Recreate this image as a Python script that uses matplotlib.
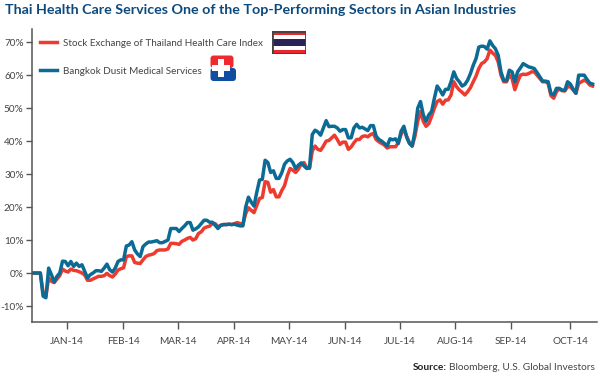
import matplotlib
matplotlib.use('Agg')
import matplotlib.pyplot as plt
from matplotlib.lines import Line2D
from matplotlib.patches import Rectangle, FancyBboxPatch

plt.rcParams['font.family'] = ['Lato', 'DejaVu Sans']

title = 'Thai Health Care Services One of the Top-Performing Sectors in Asian Industries'
source = 'Bloomberg, U.S. Global Investors'

# one value per trading day
bdms = [0, 0, 0, 0, -7, -7.5, 1.5, -0.5, -2.7, -1, 0, 3.6, 3.5, 2.2, 3.5, 2, 3, 2, 2.5, 0.5,
        -1.5, -0.5, 0, 0.7, 0.7, 0.5, 1.5, 2.7, 1, 0.3, 1.5, 3.5, 4, 4, 8.2, 8.5, 9.5, 7, 5.8, 5,
        8, 8.8, 9.4, 9.4, 9.6, 9.8, 9.2, 9.2, 9.6, 10, 13.5, 13.5, 13.5, 12.6, 13.5, 14.3, 15.3, 15.3, 13, 13.4,
        14, 15, 16, 16, 15.4, 15.4, 14.5, 13.5, 14.5, 14.7, 14.7, 14.8, 14.7, 14.8, 14.5, 14.3, 14.3, 20, 23, 21.5,
        20.3, 24.5, 28.2, 28.4, 34.2, 33.5, 30.5, 31, 28.7, 28.7, 30.4, 33, 34, 34.5, 33.5, 31.7, 32.7, 33.4, 32.5, 31.7,
        32, 42, 43.3, 42.8, 41.8, 44, 46.2, 44.4, 44.5, 44.5, 44, 43, 43.5, 43.5, 41, 41, 44, 45.1, 44, 44.2,
        43.7, 43.2, 44.7, 44.7, 41.5, 40.5, 40, 39.3, 38.5, 40.7, 40.4, 40.7, 39.3, 43, 44.5, 41.2, 39.3, 38.5, 43, 50,
        52, 48, 46, 48, 49, 53, 56.7, 55.5, 54, 55.7, 55.7, 58, 61, 59, 58, 56.7, 57.2, 58.5, 60.5, 63,
        65, 68.5, 68.8, 68.7, 67.9, 70.4, 69, 68, 66, 61, 58.4, 58.3, 61.5, 61, 58, 61, 62.2, 63.5, 63, 62.5,
        62.3, 62, 60.8, 59.5, 58.2, 58.2, 58, 54.5, 54, 56, 56, 55.5, 55.4, 58, 57.3, 55.8, 54.5, 60, 60, 60,
        58.7, 57.6, 57.3]
seth = [0, 0, 0, 0, -6, -7, -1.5, -2.5, -2.9, -1.8, -0.8, 1.2, 0.6, 0.3, 1.2, 0.8, 0.7, 0.4, 0, -0.6,
        -2.2, -2.2, -1.8, -1.4, -1, -1, -0.8, -0.1, -0.8, -1.2, -0.3, 0.9, 1.3, 1.6, 5, 5.2, 5.2, 3.2, 3, 2.9,
        4, 5, 5.4, 5.6, 5.9, 6.8, 7, 7, 7, 7.3, 9, 9, 8.9, 8.7, 9.6, 10, 10.5, 10.8, 10, 10.4,
        12, 12.5, 13.6, 14, 14.2, 15, 15, 14, 14.4, 14.7, 14.7, 14.8, 14.7, 15, 15.3, 15, 14.8, 18, 19.8, 19,
        18.3, 20.5, 22.6, 22.9, 27.7, 27.5, 24.5, 25.3, 23.1, 23.1, 25, 26.5, 29.5, 31.7, 31.2, 30.5, 31.5, 33, 33.5, 32,
        31.7, 37, 38.5, 37.5, 37.2, 38.5, 40, 40.2, 41, 41.8, 40.5, 39, 39.7, 39.7, 37.5, 38.2, 39.5, 40.5, 40.5, 41.4,
        41.6, 41.3, 42, 42.3, 40.5, 39.8, 39.3, 38.8, 37.9, 38.3, 38.3, 38.3, 39.5, 42, 43.8, 41.5, 39.5, 38.5, 41.5, 46,
        49, 46, 44.5, 45.3, 47.5, 50, 52, 52.5, 51.2, 52.4, 52.5, 54, 58, 56.5, 55.5, 54.8, 54, 55, 56.2, 58,
        59.7, 62, 63.5, 64, 65, 67.6, 66.7, 66, 64, 60, 58, 58, 60, 59, 55.6, 58, 60, 60.3, 60.2, 60.5,
        61, 61, 60, 59, 58, 58, 57.5, 53.8, 53, 55, 55.8, 55.3, 55.2, 56.5, 56.5, 55.5, 54.5, 57.5, 58, 58.5,
        58, 57, 56.7]
month_days = [12.6, 32.8, 52.7, 72.8, 92.5, 112.9, 132.7, 152.4, 172.6, 193.9]
month_labels = ['JAN-14', 'FEB-14', 'MAR-14', 'APR-14', 'MAY-14', 'JUN-14', 'JUL-14', 'AUG-14', 'SEP-14', 'OCT-14']
pct_ticks = [-10, 0, 10, 20, 30, 40, 50, 60, 70]

RED = '#ee3b2f'
BLUE = '#0b6b95'
GREY = '#444444'
W, H = 600, 376

fig = plt.figure(figsize=(6, 3.76), dpi=100)
ax = fig.add_axes([32 / W, 1 - 322 / H, 565 / W, 293 / H])

ax.plot(range(len(seth)), seth, color=RED, lw=2.5, solid_joinstyle='round')
ax.plot(range(len(bdms)), bdms, color=BLUE, lw=2.5, solid_joinstyle='round')

ax.set_xlim(0, 203.6)
ax.set_ylim(-14.85, 74)
ax.set_xticks(month_days)
ax.set_xticklabels(month_labels)
ax.set_yticks(pct_ticks)
ax.set_yticklabels([str(p) + '%' for p in pct_ticks])
ax.tick_params(axis='x', length=5, width=1, color='#555555', labelsize=7.2, labelcolor=GREY, pad=6)
ax.tick_params(axis='y', length=4.5, width=1, color='#555555', labelsize=7.2, labelcolor=GREY, pad=1.5)
for side in ['top', 'right']:
    ax.spines[side].set_visible(False)
for side in ['left', 'bottom']:
    ax.spines[side].set_color('#555555')
    ax.spines[side].set_linewidth(1.1)

handles = [Line2D([], [], color=RED, lw=2.5), Line2D([], [], color=BLUE, lw=2.5)]
ax.legend(handles, ['Stock Exchange of Thailand Health Care Index', 'Bangkok Dusit Medical Services'],
          loc='upper left', bbox_to_anchor=(8 / 565, 1 - 9.5 / 293), bbox_transform=ax.transAxes,
          frameon=False, fontsize=7.15, labelcolor=GREY, handlelength=1.7, handletextpad=0.6,
          labelspacing=1.95, borderpad=0, borderaxespad=0)

fig.text(5 / W, 1 - 10.5 / H, title, fontsize=10.3, fontweight='bold', color='#0c4a7e', va='center', ha='left')
src = fig.text(595 / W, 1 - 367 / H, source, fontsize=7.3, color=GREY, va='center', ha='right')
fig.canvas.draw()
box = src.get_window_extent()
fig.text((box.x0 - 2.5) / W, 1 - 367 / H, 'Source:', fontsize=7.3, fontweight='bold', color='#222222', va='center', ha='right')

# thai flag next to the legend
flag = fig.add_axes([272 / W, 1 - 54 / H, 34 / W, 23 / H])
flag.set_xlim(0, 1)
flag.set_ylim(0, 6)
flag.axis('off')
for y0, h, c in [(0, 1, '#e8262c'), (1, 1, '#ffffff'), (2, 2, '#2b2258'), (4, 1, '#ffffff'), (5, 1, '#e8262c')]:
    flag.add_patch(Rectangle((0, y0), 1, h, color=c, lw=0))
flag.add_patch(Rectangle((0, 0), 1, 6, fill=False, ec='#444444', lw=2))

# hospital logo next to the legend
logo = fig.add_axes([210 / W, 1 - 82 / H, 27 / W, 27 / H])
logo.set_xlim(0, 27)
logo.set_ylim(27, 0)
logo.axis('off')
logo.add_patch(FancyBboxPatch((0.5, 0.5), 23, 12.5, boxstyle='round,pad=0,rounding_size=3', fc='#ee2a2e', ec='none'))
logo.add_patch(FancyBboxPatch((0.5, 13), 25.5, 13, boxstyle='round,pad=0,rounding_size=3', fc='#0f4ea1', ec='none'))
logo.add_patch(Rectangle((8, 4), 6, 18, fc='white', lw=0))
logo.add_patch(Rectangle((2, 9.5), 18, 6.5, fc='white', lw=0))

fig.savefig('out.png', dpi=100)
